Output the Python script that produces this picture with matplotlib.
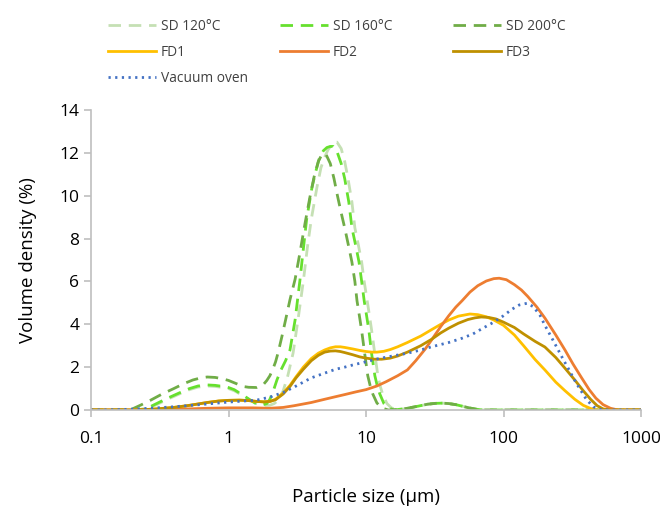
import matplotlib
matplotlib.use("Agg")
import matplotlib.pyplot as plt
from matplotlib.ticker import NullLocator

plt.rcParams['font.family'] = ['Open Sans', 'DejaVu Sans']

# ---- data ----
sd200_x = [0.1, 0.15, 0.2, 0.23, 0.27, 0.33, 0.4, 0.47, 0.55, 0.63, 0.7, 0.8, 0.9, 1.0, 1.15, 1.27, 1.4, 1.6, 1.8, 1.9, 2.0, 2.1, 2.2, 2.3, 2.45, 2.6, 2.8, 3.05, 3.3, 3.6, 3.9, 4.2, 4.5, 4.8, 5.1, 5.5, 5.85, 6.2, 6.6, 7.0, 7.5, 7.9, 8.3, 8.6, 9.0, 9.3, 9.8, 10.3, 10.8, 11.2, 12, 13, 14.5, 17, 20, 24, 28, 32, 36, 40, 45, 50, 56, 63, 70, 100, 1000]
sd200_y = [0, 0, 0.05, 0.23, 0.45, 0.75, 1.0, 1.22, 1.4, 1.5, 1.54, 1.52, 1.46, 1.38, 1.22, 1.1, 1.06, 1.05, 1.2, 1.38, 1.6, 1.9, 2.25, 2.7, 3.45, 4.2, 5.15, 6.1, 7.3, 8.7, 9.9, 10.9, 11.6, 11.95, 11.95, 11.5, 10.8, 10.0, 9.2, 8.5, 7.6, 6.9, 6.0, 5.1, 4.3, 3.7, 2.6, 1.6, 1.05, 0.75, 0.33, 0.1, 0, 0.02, 0.08, 0.18, 0.27, 0.31, 0.32, 0.3, 0.25, 0.18, 0.1, 0.04, 0, 0, 0]

sd160_x = [0.1, 0.2, 0.25, 0.3, 0.36, 0.44, 0.52, 0.6, 0.7, 0.8, 0.98, 1.1, 1.27, 1.45, 1.6, 1.75, 1.9, 2.0, 2.12, 2.25, 2.4, 2.6, 2.8, 3.05, 3.3, 3.5, 3.7, 4.05, 4.3, 4.6, 4.9, 5.2, 5.5, 5.77, 6.2, 6.6, 7.0, 7.5, 7.9, 8.4, 8.9, 9.3, 9.7, 10.1, 10.5, 11.0, 11.6, 12.1, 12.6, 13.5, 14.6, 16, 20, 24, 28, 32, 36, 40, 45, 50, 56, 63, 70, 100, 1000]
sd160_y = [0, 0, 0.05, 0.3, 0.55, 0.8, 1.0, 1.12, 1.17, 1.15, 1.07, 0.95, 0.7, 0.45, 0.28, 0.23, 0.3, 0.5, 0.9, 1.4, 1.85, 2.3, 2.8, 4.2, 6.0, 7.5, 8.9, 10.4, 11.1, 11.8, 12.1, 12.25, 12.3, 12.3, 12.0, 11.5, 10.8, 9.7, 8.5, 7.7, 6.9, 6.0, 5.1, 4.4, 3.7, 2.6, 1.6, 1.1, 0.75, 0.3, 0.1, 0, 0.08, 0.18, 0.27, 0.31, 0.32, 0.3, 0.25, 0.18, 0.1, 0.04, 0, 0, 0]

sd120_x = [0.1, 0.2, 0.25, 0.3, 0.36, 0.44, 0.52, 0.6, 0.7, 0.8, 0.98, 1.1, 1.27, 1.45, 1.6, 1.8, 2.0, 2.15, 2.3, 2.5, 2.7, 2.95, 3.2, 3.5, 3.75, 4.0, 4.4, 4.7, 5.0, 5.3, 5.6, 5.9, 6.15, 6.6, 7.0, 7.4, 7.9, 8.3, 8.8, 9.3, 9.7, 10.2, 10.6, 11.0, 11.6, 12.2, 12.7, 13.2, 14.2, 15.3, 17, 20, 24, 28, 32, 36, 40, 45, 50, 56, 63, 70, 100, 1000]
sd120_y = [0, 0, 0.04, 0.25, 0.5, 0.75, 0.95, 1.07, 1.12, 1.1, 1.02, 0.9, 0.68, 0.45, 0.3, 0.22, 0.22, 0.3, 0.45, 0.9, 1.6, 2.66, 4.2, 6.0, 7.6, 8.9, 10.4, 11.3, 11.8, 12.15, 12.35, 12.5, 12.5, 12.2, 11.6, 10.8, 9.7, 8.5, 7.7, 6.9, 6.0, 5.1, 4.4, 3.7, 2.6, 1.6, 1.1, 0.75, 0.3, 0.1, 0, 0.08, 0.18, 0.27, 0.31, 0.32, 0.3, 0.25, 0.18, 0.1, 0.04, 0, 0, 0]

fd1_x = [0.1, 0.2, 0.25, 0.3, 0.4, 0.5, 0.6, 0.7, 0.85, 1, 1.2, 1.4, 1.6, 1.8, 2.0, 2.2, 2.5, 2.8, 3.1, 3.5, 4, 4.5, 5, 5.5, 6, 6.5, 7, 8, 9, 10, 11, 12, 13.5, 15, 17, 20, 25, 30, 35, 40, 47, 57, 65, 75, 85, 100, 120, 140, 170, 200, 240, 280, 330, 380, 430, 480, 600, 1000]
fd1_y = [0, 0, 0.02, 0.05, 0.12, 0.2, 0.28, 0.35, 0.42, 0.45, 0.46, 0.44, 0.4, 0.38, 0.4, 0.5, 0.8, 1.15, 1.55, 2.0, 2.4, 2.65, 2.8, 2.9, 2.95, 2.95, 2.92, 2.85, 2.78, 2.73, 2.7, 2.7, 2.74, 2.82, 2.95, 3.15, 3.45, 3.75, 4.0, 4.2, 4.38, 4.48, 4.45, 4.35, 4.2, 3.95, 3.5, 3.0, 2.35, 1.87, 1.3, 0.9, 0.5, 0.22, 0.07, 0, 0, 0]

fd2_x = [0.1, 0.2, 0.3, 0.5, 0.7, 1, 1.5, 2, 2.5, 3, 4, 5, 6, 7, 8.5, 10, 12, 14, 17, 20, 23, 27, 30, 35, 40, 45, 50, 57, 65, 75, 85, 93, 105, 120, 135, 150, 175, 200, 240, 280, 320, 370, 420, 470, 530, 600, 680, 1000]
fd2_y = [0, 0, 0.02, 0.05, 0.08, 0.1, 0.1, 0.08, 0.12, 0.2, 0.35, 0.5, 0.62, 0.72, 0.85, 0.95, 1.12, 1.32, 1.6, 1.87, 2.3, 2.85, 3.27, 3.9, 4.4, 4.8, 5.1, 5.5, 5.8, 6.02, 6.13, 6.15, 6.08, 5.85, 5.6, 5.3, 4.8, 4.29, 3.5, 2.8, 2.15, 1.5, 0.95, 0.55, 0.25, 0.08, 0, 0]

fd3_x = [0.1, 0.2, 0.25, 0.3, 0.4, 0.5, 0.6, 0.7, 0.85, 1, 1.2, 1.4, 1.6, 1.8, 2.0, 2.2, 2.5, 2.8, 3.1, 3.5, 4, 4.5, 5, 5.5, 6, 6.5, 7, 8, 9, 10, 11.5, 13, 15, 17, 20, 25, 30, 35, 40, 47, 55, 62, 69, 78, 88, 100, 120, 140, 170, 200, 240, 280, 330, 380, 430, 480, 530, 600, 1000]
fd3_y = [0, 0, 0.02, 0.05, 0.12, 0.2, 0.28, 0.35, 0.42, 0.45, 0.46, 0.44, 0.4, 0.38, 0.4, 0.48, 0.75, 1.1, 1.5, 1.9, 2.3, 2.55, 2.7, 2.75, 2.76, 2.73, 2.68, 2.58, 2.48, 2.42, 2.37, 2.37, 2.42, 2.52, 2.7, 3.0, 3.3, 3.6, 3.82, 4.05, 4.22, 4.3, 4.34, 4.32, 4.25, 4.1, 3.85, 3.55, 3.2, 2.94, 2.45, 1.95, 1.4, 0.9, 0.5, 0.2, 0.05, 0, 0]

vac_x = [0.1, 0.15, 0.2, 0.25, 0.3, 0.4, 0.5, 0.7, 1, 1.3, 1.6, 2, 2.5, 3, 3.5, 4, 5, 6, 7, 8, 10, 12, 15, 20, 25, 30, 40, 50, 60, 70, 85, 100, 115, 130, 148, 165, 185, 200, 225, 250, 275, 300, 325, 350, 400, 450, 520, 1000]
vac_y = [0, 0.01, 0.04, 0.07, 0.1, 0.15, 0.2, 0.28, 0.37, 0.42, 0.46, 0.6, 0.82, 1.07, 1.3, 1.5, 1.72, 1.9, 2.0, 2.1, 2.25, 2.38, 2.5, 2.65, 2.8, 2.95, 3.15, 3.35, 3.55, 3.8, 4.1, 4.4, 4.7, 4.9, 4.98, 4.82, 4.4, 3.95, 3.35, 2.8, 2.3, 1.87, 1.45, 1.1, 0.5, 0.15, 0, 0]

x_ticks = [0.1, 1, 10, 100, 1000]
x_tick_labels = ['0.1', '1', '10', '100', '1000']

fig = plt.figure(figsize=(6.6, 5.07), dpi=100)
ax = fig.add_axes([91/660, 1-410/507, 550/660, 300/507])

lw = 2.0
dash = (4.5, 2.8)
h120, = ax.plot(sd120_x, sd120_y, color='#c5e0b4', lw=lw, dashes=dash, label='SD 120°C')
h160, = ax.plot(sd160_x, sd160_y, color='#66e02e', lw=lw, dashes=dash, label='SD 160°C')
h200, = ax.plot(sd200_x, sd200_y, color='#70ad47', lw=lw, dashes=dash, label='SD 200°C')
hf1, = ax.plot(fd1_x, fd1_y, color='#ffc000', lw=lw, label='FD1')
hf2, = ax.plot(fd2_x, fd2_y, color='#ed7d31', lw=lw, label='FD2')
hf3, = ax.plot(fd3_x, fd3_y, color='#bf9000', lw=lw, label='FD3')
hv, = ax.plot(vac_x, vac_y, color='#4472c4', lw=lw, dashes=(0.8, 1.6), label='Vacuum oven')

ax.set_xscale('log')
ax.set_xlim(0.1, 1000)
ax.set_ylim(0, 14)
ax.set_xticks(x_ticks)
ax.set_xticklabels(x_tick_labels)
ax.xaxis.set_minor_locator(NullLocator())
ax.set_yticks(range(0, 15, 2))
for s in ['top', 'right']:
    ax.spines[s].set_visible(False)
for s in ['left', 'bottom']:
    ax.spines[s].set_color('#bfbfbf')
    ax.spines[s].set_linewidth(1.2)
ax.tick_params(axis='both', colors='#bfbfbf', labelcolor='black', labelsize=12.5, length=5, width=1.2)
ax.tick_params(axis='x', pad=10)
ax.set_xlabel('Particle size (µm)', fontsize=13.5, labelpad=30)
ax.set_ylabel('Volume density (%)', fontsize=13.5, labelpad=16)

cols = [[h120, hf1, hv], [h160, hf2], [h200, hf3]]
col_x = [108, 280, 453]
for hs, cx in zip(cols, col_x):
    leg = fig.legend(handles=hs, labels=[h.get_label() for h in hs], ncol=1,
                     loc='upper left', bbox_to_anchor=(cx/660, 1-19/507), frameon=False,
                     fontsize=9.9, handlelength=3.5, handletextpad=0.35,
                     labelspacing=0.8, labelcolor='#404040', borderpad=0, borderaxespad=0)

fig.savefig('out.png', dpi=100)
